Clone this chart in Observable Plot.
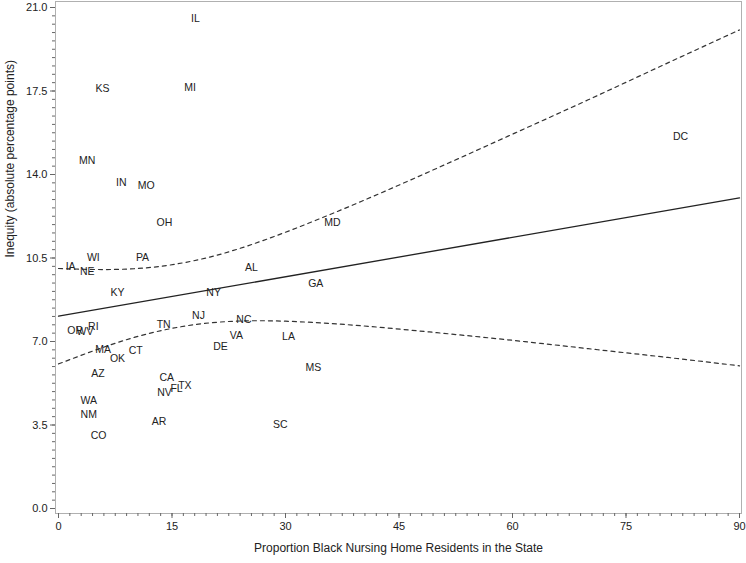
<!DOCTYPE html>
<html>
<head>
<meta charset="utf-8">
<script src="https://cdn.jsdelivr.net/npm/d3@7"></script>
<script src="https://cdn.jsdelivr.net/npm/@observablehq/plot@0.6"></script>
<style>
  html, body { margin: 0; padding: 0; background: #fff; }
  #chart { width: 746px; height: 563px; }
</style>
</head>
<body>
<div id="chart"></div>
<script>
// State labels and values
const states = ["IL","KS","MI","DC","MN","IN","MO","OH","MD","PA","WI","IA","NE","AL","GA","KY","NY","NJ","TN","NC","RI","OR","WV","VA","LA","DE","MA","CT","OK","MS","AZ","CA","TX","FL","NV","WA","NM","AR","SC","CO"];
const pctBlack = [18.1,5.8,17.4,82.2,3.8,8.3,11.6,14.0,36.2,11.1,4.6,1.6,3.8,25.5,34.0,7.8,20.5,18.5,13.9,24.5,4.6,2.2,3.5,23.5,30.4,21.4,5.9,10.2,7.8,33.7,5.2,14.3,16.7,15.6,14.0,4.0,4.0,13.3,29.3,5.3];
const inequity = [20.54,17.6,17.64,15.58,14.6,13.65,13.52,11.97,11.97,10.5,10.52,10.12,9.91,10.08,9.41,9.03,9.03,8.08,7.69,7.9,7.64,7.45,7.41,7.24,7.22,6.8,6.68,6.62,6.28,5.92,5.67,5.5,5.17,5.04,4.87,4.54,3.93,3.63,3.51,3.07];

// Fitted line (solid) endpoints
const fitX = [0, 90];
const fitY = [8.06, 13.02];

// Confidence limits (dashed), read at regular x positions
const bandX = [0, 10, 20, 30, 40, 50, 60, 70, 80, 90];
const bandUpper = [10.06, 10.05, 10.54, 11.58, 12.87, 14.26, 15.69, 17.13, 18.60, 20.06];
const bandLower = [6.06, 7.17, 7.78, 7.85, 7.66, 7.37, 7.05, 6.70, 6.35, 5.98];

// Ticks
const xMajorTicks = [0, 15, 30, 45, 60, 75, 90];
const yMajorTicks = [0, 3.5, 7, 10.5, 14, 17.5, 21];
const xMinorTicks = d3.range(0, 61).map(i => i * 1.5);
const yMinorTicks = d3.range(0, 61).map(i => +(i * 0.35).toFixed(2));

const xTitle = "Proportion Black Nursing Home Residents in the State";
const yTitle = "Inequity (absolute percentage points)";

const points = states.map((s, i) => ({state: s, x: pctBlack[i], y: inequity[i]}));
const fit = fitX.map((x, i) => ({x, y: fitY[i]}));
const upper = bandX.map((x, i) => ({x, y: bandUpper[i]}));
const lower = bandX.map((x, i) => ({x, y: bandLower[i]}));

const chart = Plot.plot({
  width: 746,
  height: 563,
  marginLeft: 55,
  marginRight: 5,
  marginTop: 1,
  marginBottom: 50,
  style: {fontFamily: "'Liberation Sans', Arial, sans-serif", background: "#fff", color: "#222"},
  x: {domain: [0, 90], insetLeft: 3, insetRight: 2},
  y: {domain: [0, 21], insetTop: 6, insetBottom: 5},
  marks: [
    Plot.frame({stroke: "#b0b0b0"}),
    Plot.axisX(xMinorTicks, {tickSize: 3, tickFormat: () => "", label: null, stroke: "#666"}),
    Plot.axisY(yMinorTicks, {tickSize: 3, tickFormat: () => "", label: null, stroke: "#666"}),
    Plot.axisX(xMajorTicks, {tickSize: 5, tickPadding: 4, tickFormat: d3.format("d"), label: null, fontSize: 11, stroke: "#666", fill: "#222"}),
    Plot.axisY(yMajorTicks, {tickSize: 5, tickPadding: 3, tickFormat: d3.format(".1f"), label: null, fontSize: 11, stroke: "#666", fill: "#222"}),
    Plot.line(upper, {x: "x", y: "y", curve: "natural", stroke: "#333", strokeWidth: 1.2, strokeDasharray: "4,4"}),
    Plot.line(lower, {x: "x", y: "y", curve: "natural", stroke: "#333", strokeWidth: 1.2, strokeDasharray: "4,4"}),
    Plot.line(fit, {x: "x", y: "y", stroke: "#222", strokeWidth: 1.3}),
    Plot.text(points, {x: "x", y: "y", text: "state", fontSize: 10.5, fill: "#222"}),
    Plot.text([xTitle], {frameAnchor: "bottom", dy: 38, fontSize: 12, fill: "#222"}),
    Plot.text([yTitle], {frameAnchor: "left", dx: -45, rotate: -90, fontSize: 12, fill: "#222"})
  ]
});
document.getElementById("chart").appendChild(chart);
</script>
</body>
</html>
